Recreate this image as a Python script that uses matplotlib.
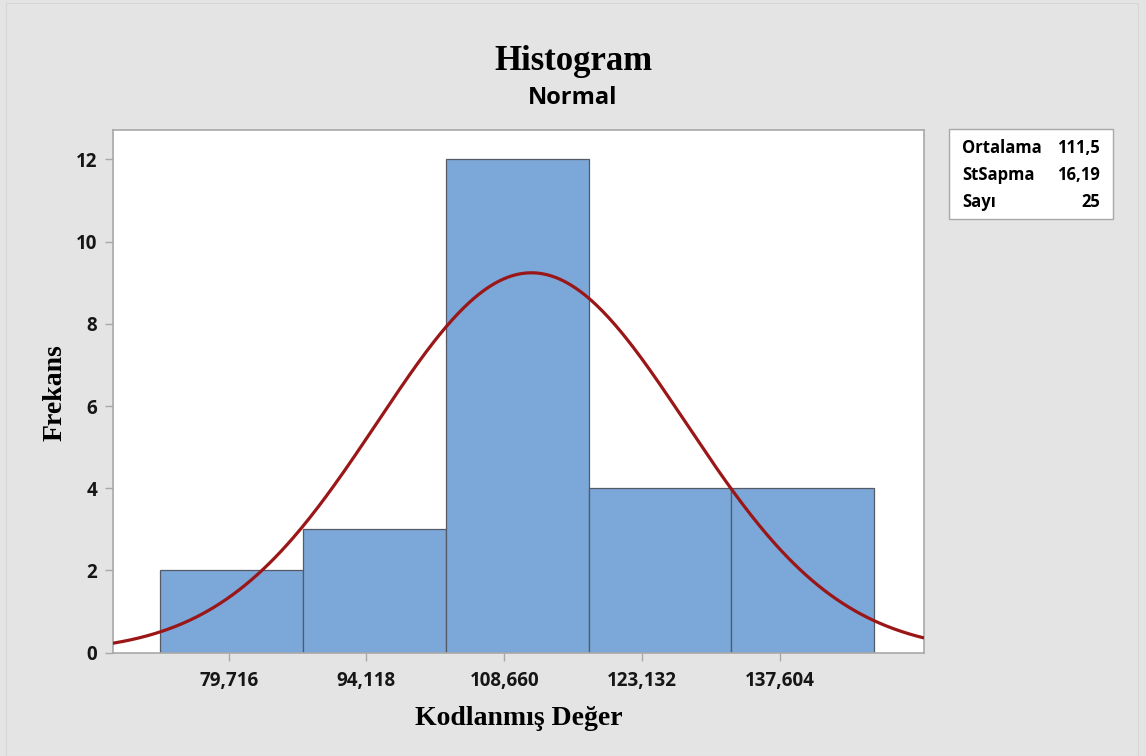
import numpy as np
import matplotlib
matplotlib.use("Agg")
import matplotlib.pyplot as plt
from matplotlib.patches import Rectangle

# histogram data
bin_edges = [72.5, 87.5, 102.5, 117.5, 132.5, 147.5]
counts = [2, 3, 12, 4, 4]
tick_values = [79.716, 94.118, 108.660, 123.132, 137.604]
tick_labels = ["79,716", "94,118", "108,660", "123,132", "137,604"]
y_ticks = [0, 2, 4, 6, 8, 10, 12]

# summary statistics
mean = 111.5
std = 16.19
n = 25
stat_names = ["Ortalama", "StSapma", "Sayı"]
stat_values = ["111,5", "16,19", "25"]

SANS = "Open Sans"
SERIF = "Liberation Serif"
BG = "#e4e4e4"

fig = plt.figure(figsize=(11.46, 7.56), dpi=100, facecolor=BG)
ax = fig.add_axes([0.0983, 0.1366, 0.7080, 0.6918])
ax.set_facecolor("white")

lefts = bin_edges[:-1]
widths = np.diff(bin_edges)
ax.bar(lefts, counts, width=widths, align="edge", color="#7ba7d9",
       edgecolor="#555a66", linewidth=0.9, zorder=2)

# fitted normal curve scaled to counts
xmin, xmax = 67.5, 152.75
xs = np.linspace(xmin, xmax, 400)
bw = widths[0]
pdf = np.exp(-0.5 * ((xs - mean) / std) ** 2) / (std * np.sqrt(2 * np.pi))
ax.plot(xs, n * bw * pdf, color="#9b1616", linewidth=2.3, zorder=3,
        solid_capstyle="butt")

ax.set_xlim(xmin, xmax)
ax.set_ylim(0, 12.72)
ax.set_xticks(tick_values)
ax.set_xticklabels(tick_labels)
ax.set_yticks(y_ticks)
for lab in ax.get_xticklabels() + ax.get_yticklabels():
    lab.set_fontfamily(SANS)
    lab.set_fontweight("bold")
    lab.set_fontsize(13.5)
    lab.set_color("#161616")
ax.tick_params(axis="both", length=6, width=1, color="#a8a8a8", pad=5)
ax.tick_params(axis="x", pad=7)
for sp in ax.spines.values():
    sp.set_color("#a8a8a8")
    sp.set_linewidth(1.2)

# titles and axis labels
fig.text(0.5, 0.918, "Histogram", ha="center", va="center",
         fontfamily=SERIF, fontweight="bold", fontsize=25)
fig.text(0.5, 0.870, "Normal", ha="center", va="center",
         fontfamily=SANS, fontweight="bold", fontsize=17)
fig.text(0.4525, 0.050, "Kodlanmış Değer", ha="center", va="center",
         fontfamily=SERIF, fontweight="bold", fontsize=20)
fig.text(0.048, 0.48, "Frekans", ha="center", va="center", rotation=90,
         fontfamily=SERIF, fontweight="bold", fontsize=20)

# statistics box
box_l, box_r = 949 / 1146, 1113 / 1146
box_t, box_b = 1 - 129 / 756, 1 - 219 / 756
fig.patches.append(Rectangle((box_l, box_b), box_r - box_l, box_t - box_b,
                             transform=fig.transFigure, facecolor="white",
                             edgecolor="#a8a8a8", linewidth=1.0))
row_y = [148, 175, 202]
for name, val, yy in zip(stat_names, stat_values, row_y):
    fy = 1 - yy / 756
    fig.text(962 / 1146, fy, name, ha="left", va="center",
             fontfamily=SANS, fontweight="bold", fontsize=12)
    fig.text(1100 / 1146, fy, val, ha="right", va="center",
             fontfamily=SANS, fontweight="bold", fontsize=12)

# faint outer frame
fig.patches.append(Rectangle((6 / 1146, 0.0), 1132 / 1146, 1 - 3 / 756,
                             transform=fig.transFigure, facecolor="none",
                             edgecolor="#d6d6d6", linewidth=0.8))

fig.savefig("out.png", dpi=100, facecolor=BG)
